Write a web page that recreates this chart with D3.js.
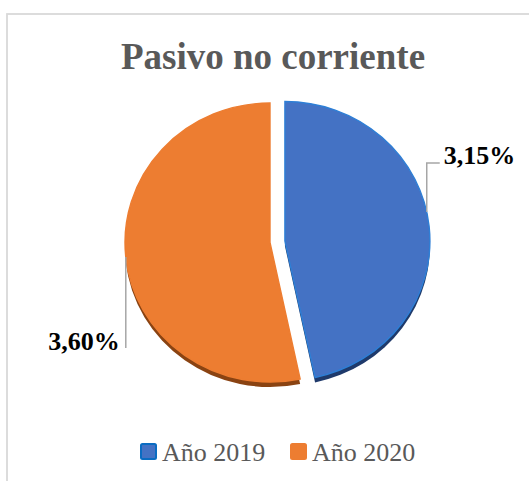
<!DOCTYPE html>
<html>
<head>
<meta charset="utf-8">
<script src="https://cdn.jsdelivr.net/npm/d3@7"></script>
<style>
  html, body { margin: 0; padding: 0; background: #fff; }
  svg { display: block; font-family: "Liberation Serif", "Times New Roman", serif; }
</style>
</head>
<body>
<svg id="chart" width="529" height="481"></svg>
<script>
// Pasivo no corriente — participación por año
const categories = ["Año 2019", "Año 2020"];
const values = [3.15, 3.60];
const title = "Pasivo no corriente";

const faceColors = ["#4472C4", "#ED7D31"];
const sideColors = ["#1F3A6B", "#8A4312"];
const rimColors  = ["#2E7FD6", "#ED7D31"];
const legendBorder = ["#0A6CC2", "#ED7D31"];

const svg = d3.select("#chart");
const W = 529, H = 481;

// chart-area frame (right / bottom sides run past the view)
svg.append("rect")
  .attr("x", 7).attr("y", 14)
  .attr("width", W + 20).attr("height", H + 20)
  .attr("fill", "#fff")
  .attr("stroke", "#D9D9D9").attr("stroke-width", 1.8);

// title
svg.append("text")
  .attr("x", 273).attr("y", 69)
  .attr("text-anchor", "middle")
  .attr("font-size", 37).attr("font-weight", "bold")
  .attr("fill", "#595959")
  .text(title);

// pie geometry: ellipse (slightly tilted 3D pie)
const cx = 270, cy = 242.5, rx = 145, ry = 139.5, depth = 5, explode = 15;
const sy = ry / rx;

const pie = d3.pie().sort(null).value(d => d)(values);
const arc = d3.arc().innerRadius(0).outerRadius(rx);

const fmt = d3.formatLocale({ decimal: ",", thousands: ".", grouping: [3], currency: ["", ""] }).format(".2f");

// offset of each slice (only the first one is pulled out)
function offset(i) {
  if (i !== 0) return [0, 0];
  const a = (pie[i].startAngle + pie[i].endAngle) / 2;
  return [explode * Math.sin(a), -explode * Math.cos(a) * sy];
}
function rimPoint(i, angle) {
  const [ox, oy] = offset(i);
  return [cx + ox + rx * Math.sin(angle), cy + oy - ry * Math.cos(angle)];
}

const slices = svg.append("g");
// side walls first
pie.forEach((p, i) => {
  const [ox, oy] = offset(i);
  slices.append("path")
    .attr("d", arc(p))
    .attr("transform", `translate(${cx + ox},${cy + oy + depth}) scale(1,${sy})`)
    .attr("fill", sideColors[i]);
});
// top faces
pie.forEach((p, i) => {
  const [ox, oy] = offset(i);
  slices.append("path")
    .attr("d", arc(p))
    .attr("transform", `translate(${cx + ox},${cy + oy}) scale(1,${sy})`)
    .attr("fill", faceColors[i])
    .attr("stroke", rimColors[i])
    .attr("stroke-width", 1.4)
    .attr("vector-effect", "non-scaling-stroke");
});

// data labels with leader lines
const leader = svg.append("g").attr("fill", "none").attr("stroke", "#A6A6A6").attr("stroke-width", 1.5);
const labels = svg.append("g").attr("font-size", 26).attr("font-weight", "bold").attr("fill", "#000");

// 2019: leader rises from the right rim, then runs right to the label
{
  const [x0, y0] = rimPoint(0, 78 * Math.PI / 180);
  const yTop = 163;
  leader.append("path").attr("d", `M${x0},${y0}V${yTop}H${x0 + 13}`);
  labels.append("text")
    .attr("x", x0 + 17).attr("y", yTop + 1)
    .text(fmt(values[0]) + "%");
}
// 2020: leader drops from the left rim down to the label
{
  const [x0, y0] = rimPoint(1, 264 * Math.PI / 180);
  const yBot = 348;
  leader.append("path").attr("d", `M${x0},${y0}V${yBot}`);
  labels.append("text")
    .attr("x", x0 - 6).attr("y", yBot + 2)
    .attr("text-anchor", "end")
    .text(fmt(values[1]) + "%");
}

// legend
const legend = svg.append("g").attr("font-size", 26).attr("fill", "#595959");
const legendX = [140, 290];
categories.forEach((c, i) => {
  legend.append("rect")
    .attr("x", legendX[i] + 1).attr("y", 444)
    .attr("width", 15).attr("height", 15)
    .attr("rx", 1.5)
    .attr("fill", faceColors[i])
    .attr("stroke", legendBorder[i]).attr("stroke-width", 2);
  legend.append("text")
    .attr("x", legendX[i] + 22).attr("y", 461)
    .text(c);
});
</script>
</body>
</html>
